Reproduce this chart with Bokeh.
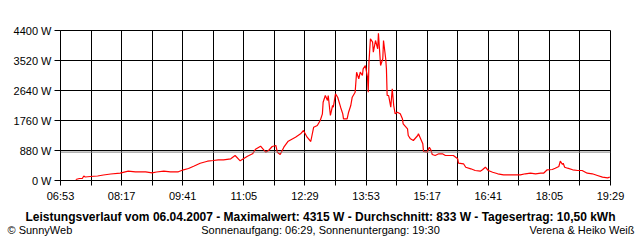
from bokeh.plotting import figure
from bokeh.models import Range1d, FixedTicker, Span, Label
from bokeh.embed import file_html
from bokeh.resources import INLINE

# ---- data ----
times = ["07:14","07:19","07:23","07:25","07:27","07:34","07:44","07:52","08:02","08:15",
         "08:26","08:36","08:50","08:59","09:05","09:15","09:24","09:35","09:42","09:49",
         "09:56","10:05","10:15","10:23","10:30","10:37","10:47","10:53","11:00","11:10",
         "11:17","11:21","11:28","11:35","11:39","11:44","11:49","11:51","11:55","12:00",
         "12:06","12:16","12:23","12:27","12:32","12:37","12:41","12:46","12:50","12:53",
         "12:54","12:57","13:00","13:01","13:04","13:07","13:08","13:11","13:14","13:18",
         "13:21","13:22","13:27","13:29","13:32","13:34","13:38","13:40","13:43","13:45",
         "13:48","13:49","13:52","13:55","13:56","13:57","13:59","14:02","14:03","14:06",
         "14:09","14:10","14:13","14:16","14:17","14:20","14:21","14:22","14:24","14:27",
         "14:29","14:31","14:33","14:36","14:40","14:43","14:44","14:50","14:51","14:54",
         "14:58","15:04","15:05","15:08","15:11","15:12","15:17","15:20","15:22","15:24",
         "15:28","15:33","15:38","15:42","15:53","15:59","16:00","16:07","16:10","16:17",
         "16:23","16:30","16:33","16:37","16:41","16:47","16:54","17:02","17:25","17:32",
         "17:39","17:46","17:53","17:57","18:02","18:09","18:13","18:18","18:20","18:23",
         "18:24","18:26","18:30","18:37","18:44","18:50","18:57","19:04","19:11","19:18",
         "19:25","19:28"]
watts = [29,59,59,132,103,117,132,161,191,214,
         273,255,255,226,249,273,255,255,314,352,
         419,507,566,587,607,607,637,733,578,713,
         783,918,1006,830,880,997,1027,830,763,977,
         1153,1270,1370,1467,1270,1144,1563,1613,1760,1956,
         2297,2493,2347,2493,1907,2200,2150,2543,2443,2150,
         1956,1810,1810,2003,2200,2443,2590,3177,2983,3177,
         3080,3276,3373,3030,2590,3470,4157,4057,3763,4107,
         3863,4315,3373,3570,4107,3570,3276,2493,2493,2150,
         2690,2200,1956,2003,1956,1810,1663,1516,1320,1223,
         1173,1320,1370,1223,1076,851,830,977,900,763,
         733,783,783,733,733,637,507,490,390,343,
         293,273,314,390,293,243,197,167,167,197,
         214,197,214,214,314,323,361,411,566,469,
         507,390,361,314,293,293,214,197,147,97,
         79,97]
average_w = 833
y_ticks = [0, 880, 1760, 2640, 3520, 4400]
x_tick_labels = ["06:53","08:17","09:41","11:05","12:29","13:53","15:17","16:41","18:05","19:29"]
title_text = "Leistungsverlauf vom 06.04.2007 - Maximalwert: 4315 W - Durchschnitt: 833 W - Tagesertrag: 10,50 kWh"
footer_left = "\u00a9 SunnyWeb"
footer_mid = "Sonnenaufgang: 06:29, Sonnenuntergang: 19:30"
footer_right = "Verena & Heiko Wei\u00df"

def to_min(s):
    h, m = s.split(":")
    return int(h) * 60 + int(m)

xs = [to_min(t) for t in times]
label_mins = [to_min(t) for t in x_tick_labels]
x_start, x_end = label_mins[0], label_mins[-1]
step = (label_mins[1] - label_mins[0]) // 2
grid_ticks = list(range(x_start, x_end + 1, step))

FONT = "Liberation Sans"
LEFT = 60

p = figure(width=640, height=240, output_backend="svg", toolbar_location=None,
           x_range=Range1d(x_start, x_end), y_range=Range1d(0, 4400),
           min_border_left=LEFT, min_border_right=30, min_border_top=30, min_border_bottom=60)
p.background_fill_color = "white"
p.border_fill_color = "white"
p.outline_line_color = "black"

p.line(xs, watts, line_color="#ff0000", line_width=1.2)
p.add_layout(Span(location=average_w, dimension="width", line_color="#808080", line_width=1))

p.xaxis.ticker = FixedTicker(ticks=grid_ticks)
overrides = {}
for t in grid_ticks:
    overrides[t] = ""
for s, t in zip(x_tick_labels, label_mins):
    overrides[t] = s
p.xaxis.major_label_overrides = overrides
p.xaxis.minor_tick_line_color = None
p.xaxis.major_tick_out = 5
p.xaxis.major_tick_in = 0
p.xaxis.major_label_standoff = 4
p.xaxis.axis_line_color = "black"
p.xaxis.major_tick_line_color = "black"

p.yaxis.ticker = FixedTicker(ticks=y_ticks)
p.yaxis.major_label_overrides = {v: f"{v} W" for v in y_ticks}
p.yaxis.minor_tick_line_color = None
p.yaxis.major_tick_out = 6
p.yaxis.major_tick_in = 0
p.yaxis.major_label_standoff = 3
p.yaxis.axis_line_color = "black"

for ax in (p.xaxis, p.yaxis):
    ax.major_label_text_font = FONT
    ax.major_label_text_font_size = "11px"
    ax.major_label_text_color = "black"

p.xgrid.ticker = FixedTicker(ticks=grid_ticks)
p.ygrid.ticker = FixedTicker(ticks=y_ticks)
for g in (p.xgrid, p.ygrid):
    g.grid_line_color = "black"
    g.grid_line_alpha = 1.0
    g.grid_line_width = 1

# texts outside the frame, placed in side panels (not clipped to the frame)
def side_label(place, x, y, text, size, align, bold=False):
    p.add_layout(Label(x=x - LEFT, y=y, x_units="screen", y_units="screen", text=text,
                       text_font=FONT, text_font_size=size,
                       text_font_style="bold" if bold else "normal",
                       text_align=align, text_baseline="middle", text_color="black"), place)

side_label("below", 320, 2, title_text, "12px", "center", bold=True)
side_label("below", 7, 1, footer_left, "11px", "left")
side_label("above", 320, -199, footer_mid, "11px", "center")
side_label("above", 634, -211, footer_right, "11px", "right")

open("out.html", "w").write(file_html(p, INLINE))
